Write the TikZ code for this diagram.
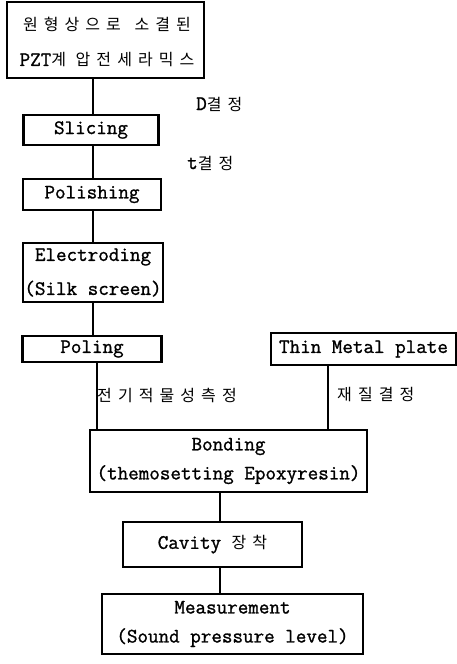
\documentclass[tikz,border=0pt]{standalone}
\usepackage{fontspec}
\newfontfamily\kr[LetterSpace=38]{Noto Sans CJK KR}
\newfontfamily\mnfont[FakeBold=1.2]{Latin Modern Mono}
\newcommand{\mn}{\mnfont\fontsize{20.5}{22}\selectfont}
\newcommand{\krs}{\kr\fontsize{16}{18}\selectfont}
\begin{document}
\begin{tikzpicture}[x=1pt,y=-1pt,
  box/.style={draw, line width=2.4pt, rectangle, inner sep=0pt, align=center, font=\mn},
  conn/.style={line width=2.4pt},
  lbl/.style={inner sep=0pt, anchor=west}]
\useasboundingbox (0,0) rectangle (457,664);
% boxes
\node[box, minimum width=197pt, minimum height=76pt] (raw) at (105.5,40) {};
\node[inner sep=0pt] (rawa) at (107,24) {\krs 원형상으로\hspace{4pt} 소결된};
\node[inner sep=0pt] (rawb) at (107,60) {\mn PZT\krs 계 압전세라믹스};
\node[box, minimum width=135pt, minimum height=30pt] (slicing) at (91,130) {Slicing};
\node[box, minimum width=138pt, minimum height=31pt] (polishing) at (92,194.5) {Polishing};
\node[box, minimum width=140pt, minimum height=59pt] (electro) at (93,272.5) {Electroding\\[12pt](Silk screen)};
\node[box, minimum width=139pt, minimum height=26pt] (poling) at (92,349) {Poling};
\node[box, minimum width=185pt, minimum height=32pt] (metal) at (363.5,349) {Thin Metal plate};
\node[box, minimum width=277pt, minimum height=62pt] (bonding) at (228.5,461) {Bonding\\[7pt](themosetting Epoxyresin)};
\node[box, minimum width=179pt, minimum height=45pt] (cavity) at (212.5,544.5) {Cavity {\krs 장착}};
\node[box, minimum width=261pt, minimum height=60pt] (meas) at (232.5,624) {Measurement\\[7pt](Sound pressure level)};
% labels
\node[lbl] (dl) at (196,104) {\mn D\krs 결정};
\node[lbl] (tl) at (187,163) {\mn t\krs 결정};
\node[lbl] (el) at (97,395) {\krs 전기적물성측정};
\node[lbl] (ml) at (337,395) {\krs 재질결정};
% connectors
\coordinate (xa) at (93,0);
\coordinate (xb) at (97,0);
\coordinate (xc) at (328,0);
\coordinate (xd) at (220,0);
\draw[conn] (raw.south -| xa) -- (slicing.north -| xa);
\draw[conn] (slicing.south -| xa) -- (polishing.north -| xa);
\draw[conn] (polishing.south -| xa) -- (electro.north -| xa);
\draw[conn] (electro.south -| xa) -- (poling.north -| xa);
\draw[conn] (poling.south -| xb) -- (bonding.north -| xb);
\draw[conn] (metal.south -| xc) -- (bonding.north -| xc);
\draw[conn] (bonding.south -| xd) -- (cavity.north -| xd);
\draw[conn] (cavity.south -| xd) -- (meas.north -| xd);
\end{tikzpicture}
\end{document}
